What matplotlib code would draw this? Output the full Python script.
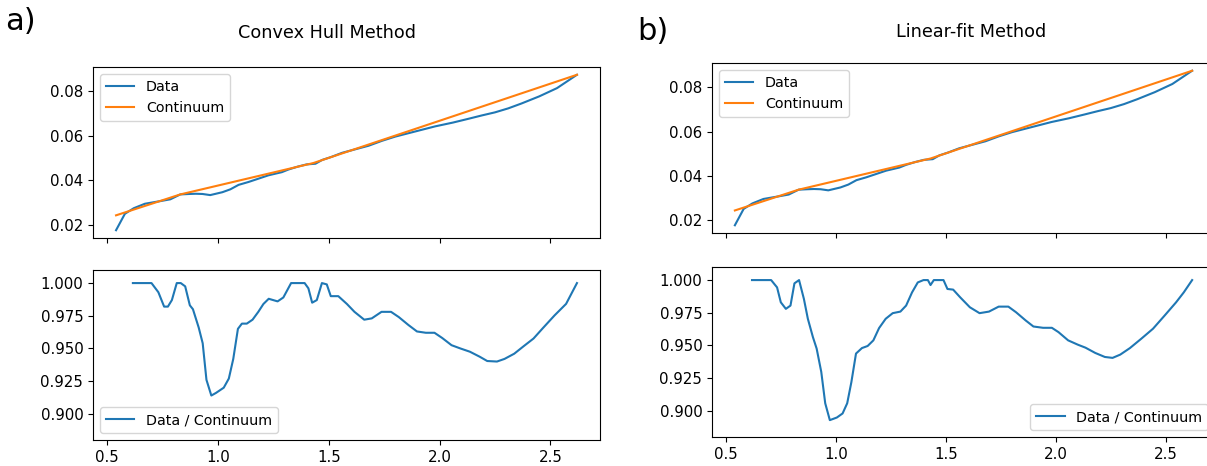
import numpy as np
import matplotlib
matplotlib.use("Agg")
import matplotlib.pyplot as plt

# top panels: data and continuum (same in both methods)
x_data = [0.54, 0.58, 0.62, 0.67, 0.74, 0.785, 0.83, 0.87, 0.90, 0.93, 0.965, 1.02,
          1.056, 1.093, 1.138, 1.183, 1.228, 1.288, 1.318, 1.36, 1.40, 1.44, 1.47,
          1.51, 1.56, 1.62, 1.68, 1.74, 1.80, 1.89, 1.98, 2.06, 2.13, 2.19, 2.25,
          2.31, 2.37, 2.45, 2.53, 2.62]
y_data = [0.0176, 0.0250, 0.0275, 0.0295, 0.0307, 0.0315, 0.0337, 0.0339, 0.0340,
          0.0339, 0.0334, 0.0347, 0.0360, 0.0380, 0.0393, 0.0408, 0.0423, 0.0437,
          0.0449, 0.0462, 0.0472, 0.0475, 0.0492, 0.0505, 0.0524, 0.0540, 0.0556,
          0.0578, 0.0597, 0.0620, 0.0643, 0.0660, 0.0677, 0.0692, 0.0706, 0.0724,
          0.0746, 0.0778, 0.0815, 0.0875]

x_cont = [0.54, 0.83, 1.43, 2.62]
y_cont = [0.0243, 0.0337, 0.0478, 0.0875]

# bottom left: data / continuum, convex hull
x_ch = [0.616, 0.700, 0.731, 0.757, 0.774, 0.792, 0.814, 0.832, 0.852, 0.873, 0.887,
        0.913, 0.931, 0.948, 0.970, 0.991, 1.026, 1.049, 1.069, 1.090, 1.108, 1.130,
        1.156, 1.182, 1.205, 1.229, 1.269, 1.295, 1.330, 1.391, 1.408, 1.425, 1.446,
        1.469, 1.491, 1.509, 1.543, 1.582, 1.616, 1.660, 1.694, 1.738, 1.781, 1.816,
        1.859, 1.898, 1.938, 1.977, 2.012, 2.054, 2.094, 2.137, 2.181, 2.215, 2.259,
        2.293, 2.337, 2.380, 2.424, 2.467, 2.519, 2.571, 2.62]
r_ch = [1.000, 1.000, 0.993, 0.982, 0.982, 0.987, 1.000, 1.000, 0.9975, 0.983, 0.980,
        0.966, 0.954, 0.926, 0.914, 0.916, 0.920, 0.927, 0.942, 0.965, 0.969, 0.969,
        0.972, 0.978, 0.984, 0.988, 0.986, 0.989, 1.000, 1.000, 0.996, 0.985, 0.987,
        1.000, 0.999, 0.990, 0.990, 0.984, 0.978, 0.972, 0.973, 0.978, 0.978, 0.974,
        0.968, 0.963, 0.962, 0.962, 0.958, 0.9525, 0.950, 0.9475, 0.9437, 0.9404,
        0.940, 0.942, 0.946, 0.9518, 0.9576, 0.9657, 0.9753, 0.9841, 1.000]

# bottom right: data / continuum, linear fit
x_lf = [0.618, 0.705, 0.732, 0.749, 0.772, 0.793, 0.811, 0.832, 0.854, 0.872, 0.895,
        0.912, 0.933, 0.951, 0.972, 1.004, 1.030, 1.051, 1.070, 1.091, 1.118, 1.144,
        1.170, 1.196, 1.226, 1.258, 1.293, 1.319, 1.346, 1.372, 1.398, 1.418, 1.430,
        1.445, 1.489, 1.507, 1.533, 1.565, 1.609, 1.653, 1.696, 1.740, 1.784, 1.819,
        1.863, 1.898, 1.942, 1.982, 2.012, 2.056, 2.100, 2.135, 2.179, 2.223, 2.258,
        2.293, 2.337, 2.389, 2.442, 2.495, 2.547, 2.582, 2.62]
r_lf = [1.000, 1.000, 0.9944, 0.983, 0.978, 0.9805, 0.9975, 1.000, 0.9856, 0.9704,
        0.9564, 0.9476, 0.9298, 0.9058, 0.8929, 0.8949, 0.898, 0.9058, 0.922, 0.9438,
        0.948, 0.9496, 0.9539, 0.9633, 0.9704, 0.9747, 0.9759, 0.9805, 0.9906, 0.9982,
        1.000, 1.000, 0.9962, 1.000, 1.000, 0.9932, 0.9927, 0.9868, 0.9792, 0.9747,
        0.9759, 0.9797, 0.9797, 0.9754, 0.9691, 0.9645, 0.9635, 0.9635, 0.9602, 0.9539,
        0.9506, 0.9483, 0.9443, 0.9412, 0.9405, 0.943, 0.948, 0.9552, 0.9628, 0.9729,
        0.983, 0.9906, 1.000]

W, H = 1207, 466
fig = plt.figure(figsize=(W / 100, H / 100), dpi=100)


def box(x0, y0, x1, y1):
    return [x0 / W, 1 - y1 / H, (x1 - x0) / W, (y1 - y0) / H]


axes = {
    "lt": fig.add_axes(box(93, 67, 600, 238)),
    "lb": fig.add_axes(box(93, 270, 600, 440)),
    "rt": fig.add_axes(box(712, 63, 1215, 233)),
    "rb": fig.add_axes(box(712, 267, 1215, 437)),
}

for key in ("lt", "rt"):
    ax = axes[key]
    ax.plot(x_data, y_data, color="C0", label="Data")
    ax.plot(x_cont, y_cont, color="C1", label="Continuum")
    ax.legend(loc="upper left", fontsize=10.3)
    ax.tick_params(labelbottom=False)

axes["lb"].plot(x_ch, r_ch, color="C0", label="Data / Continuum")
axes["lb"].legend(loc="lower left", fontsize=10.3)
axes["lb"].set_ylim(0.88, 1.01)

axes["rb"].plot(x_lf, r_lf, color="C0", label="Data / Continuum")
axes["rb"].legend(loc="lower right", fontsize=10.3)
axes["rb"].set_ylim(0.88, 1.01)

for ax in axes.values():
    ax.set_xlim(0.436, 2.724)
    ax.set_xticks([0.5, 1.0, 1.5, 2.0, 2.5])
    ax.tick_params(labelsize=10.8)
for key in ("lt", "rt"):
    axes[key].set_yticks([0.02, 0.04, 0.06, 0.08])
for key in ("lb", "rb"):
    axes[key].set_yticks([0.900, 0.925, 0.950, 0.975, 1.000])

fig.text(327 / W, 1 - 33 / H, "Convex Hull Method", ha="center", va="center", fontsize=12.7)
fig.text(971 / W, 1 - 32 / H, "Linear-fit Method", ha="center", va="center", fontsize=12.7)
fig.text(5 / W, 1 - 22 / H, "a)", ha="left", va="center", fontsize=22)
fig.text(637 / W, 1 - 32 / H, "b)", ha="left", va="center", fontsize=22)

fig.savefig("out.png", dpi=100)
